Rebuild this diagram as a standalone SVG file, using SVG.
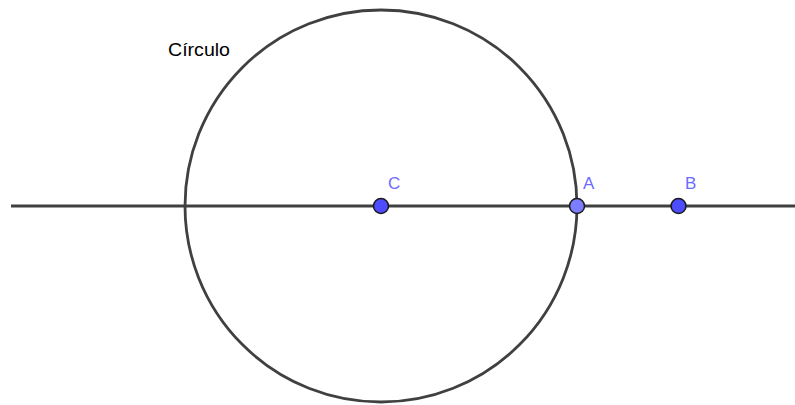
<svg xmlns="http://www.w3.org/2000/svg" width="795" height="405" viewBox="0 0 795 405">
<style>
.lbl{font-family:"Liberation Sans",Arial,sans-serif;font-size:17px;fill:#6b6bff}
.txt{font-family:"Liberation Sans",Arial,sans-serif;font-size:19px;fill:#000}
.pt{stroke:#1a1a1a;stroke-width:1.5}
</style>
<rect width="795" height="405" fill="#fff"/>
<g id="connectors">
<line x1="11" y1="206" x2="795" y2="206" stroke="#404040" stroke-width="2.8"/>
<circle cx="381" cy="206" r="196" fill="none" stroke="#404040" stroke-width="2.8"/>
</g>
<g id="label-circulo"><text class="txt" x="168" y="56" textLength="62" lengthAdjust="spacingAndGlyphs">Círculo</text></g>
<g id="C"><circle class="pt" cx="381" cy="206" r="7.5" fill="#4d4dff"/><text class="lbl" x="388" y="189">C</text></g>
<g id="A"><circle class="pt" cx="577" cy="206" r="7.5" fill="#7d7dff"/><text class="lbl" x="583" y="189">A</text></g>
<g id="B"><circle class="pt" cx="678.5" cy="206" r="7.5" fill="#4d4dff"/><text class="lbl" x="685" y="189">B</text></g>
</svg>
